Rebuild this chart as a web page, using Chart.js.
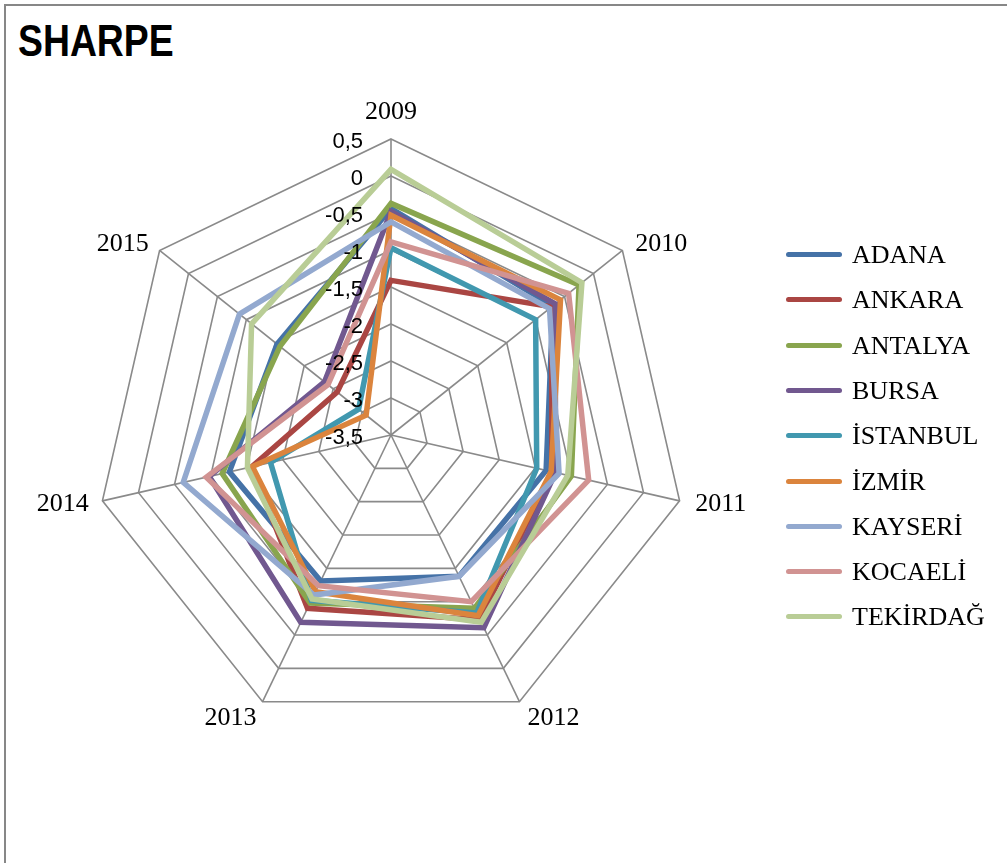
<!DOCTYPE html>
<html>
<head>
<meta charset="utf-8">
<title>SHARPE</title>
<script src="https://cdn.jsdelivr.net/npm/chart.js@4.4.1/dist/chart.umd.min.js"></script>
<style>
  html, body { margin: 0; padding: 0; background: #ffffff; overflow: hidden; }
  #wrap { position: relative; width: 1007px; height: 863px; overflow: hidden; }
  #frame { position: absolute; left: 4px; top: 4px; width: 1030px; height: 900px;
           border: 2px solid #878787; box-sizing: border-box; }
  #title { position: absolute; left: 18px; top: 19px; margin: 0;
           font: bold 45px 'Liberation Sans', Arial, sans-serif;
           line-height: 44px; color: #000;
           transform: scaleX(0.83); transform-origin: 0 0; }
  #chart { position: absolute; left: 0; top: 0; }
  #legend { position: absolute; left: 786px; top: 0; }
  .item { position: absolute; left: 0; height: 26px; white-space: nowrap; }
  .swatch { position: absolute; left: 0; top: 10px; width: 56px; height: 5px; border-radius: 3px; }
  .label { position: absolute; left: 66px; top: 0; font: 26px 'Liberation Serif', 'Times New Roman', serif;
           line-height: 26px; color: #000; }
</style>
</head>
<body>
<div id="wrap">
  <div id="frame"></div>
  <div id="title">SHARPE</div>
  <canvas id="chart" width="1007" height="863"></canvas>
  <div id="legend"></div>
</div>
<script>
// Years on the radar spokes
const years = ['2009', '2010', '2011', '2012', '2013', '2014', '2015'];

// Sharpe ratio per province, one value per year
const adana    = [-0.44, -0.70, -1.35, -1.38, -1.31, -1.26, -1.53];
const ankara   = [-1.41, -0.72, -1.27, -0.73, -0.90, -1.57, -2.57];
const antalya  = [-0.37, -0.25, -1.00, -0.90, -0.98, -1.16, -1.58];
const bursa    = [-0.48, -0.66, -1.22, -0.61, -0.69, -0.98, -2.35];
const istanbul = [-0.97, -1.00, -1.48, -0.83, -1.02, -1.83, -2.94];
const izmir    = [-0.53, -0.57, -1.28, -0.79, -1.15, -1.58, -3.07];
const kayseri  = [-0.62, -0.76, -1.17, -1.38, -1.10, -0.62, -0.88];
const kocaeli  = [-0.89, -0.43, -0.76, -1.00, -1.24, -0.94, -2.41];
const tekirdag = [ 0.09, -0.20, -1.05, -0.69, -1.04, -1.51, -1.09];

const seriesNames  = ['ADANA', 'ANKARA', 'ANTALYA', 'BURSA', 'İSTANBUL', 'İZMİR', 'KAYSERİ', 'KOCAELİ', 'TEKİRDAĞ'];
const seriesValues = [adana, ankara, antalya, bursa, istanbul, izmir, kayseri, kocaeli, tekirdag];
const seriesColors = ['#4572A7', '#AA4643', '#89A54E', '#71588F', '#4198AF', '#DB843D', '#93A9CF', '#D19392', '#B9CD96'];

// Radial axis ticks and their printed (comma-decimal) labels
const tickValues = [0.5, 0, -0.5, -1, -1.5, -2, -2.5, -3, -3.5];
const tickLabels = ['0,5', '0', '-0,5', '-1', '-1,5', '-2', '-2,5', '-3', '-3,5'];

const GRID = '#8a8a8a';

// Value labels along the 2009 spoke, printed over the lines
const tickLabelPlugin = {
  id: 'tickLabelPlugin',
  afterDatasetsDraw(chart) {
    const s = chart.scales.r;
    const ctx = chart.ctx;
    ctx.save();
    ctx.font = "22px 'Liberation Sans', Arial, sans-serif";
    ctx.fillStyle = '#000';
    ctx.textAlign = 'right';
    ctx.textBaseline = 'middle';
    tickValues.forEach((v, i) => {
      const d = s.getDistanceFromCenterForValue(v);
      ctx.fillText(tickLabels[i], s.xCenter - 28, s.yCenter - d + 3);
    });
    ctx.restore();
  }
};

// Year labels just outside each spoke
const yearLabelPlugin = {
  id: 'yearLabelPlugin',
  afterDraw(chart) {
    const s = chart.scales.r;
    const ctx = chart.ctx;
    ctx.save();
    ctx.font = "26px 'Liberation Serif', 'Times New Roman', serif";
    ctx.fillStyle = '#000';
    years.forEach((y, i) => {
      const p = s.getPointPosition(i, s.drawingArea + 14);
      const dx = p.x - s.xCenter, dy = p.y - s.yCenter;
      const len = Math.hypot(dx, dy);
      const ux = dx / len, uy = dy / len;
      let x = p.x, yy = p.y;
      if (Math.abs(ux) < 0.1) {
        ctx.textAlign = 'center';
        ctx.textBaseline = 'alphabetic';
        yy = p.y - 6;
      } else {
        ctx.textAlign = ux > 0 ? 'left' : 'right';
        ctx.textBaseline = 'middle';
        if (uy > 0.8) yy += 4;
        if (uy < -0.5) yy += 2;
        x += ux > 0 ? 2 : 0;
      }
      ctx.fillText(y, x, yy);
    });
    ctx.restore();
  }
};

const datasets = seriesNames.map((name, i) => ({
  label: name,
  data: seriesValues[i],
  borderColor: seriesColors[i],
  backgroundColor: seriesColors[i],
  borderWidth: 5.5,
  pointRadius: 0,
  pointHoverRadius: 0,
  fill: false,
  tension: 0,
  borderJoinStyle: 'miter',
  order: seriesNames.length - 1 - i
}));

new Chart(document.getElementById('chart'), {
  type: 'radar',
  data: { labels: years, datasets },
  options: {
    responsive: false,
    animation: false,
    devicePixelRatio: 1,
    layout: { padding: { left: 95, right: 320, top: 139, bottom: 132 } },
    plugins: { legend: { display: false }, title: { display: false }, tooltip: { enabled: false } },
    scales: {
      r: {
        min: -3.5,
        max: 0.5,
        startAngle: 0,
        ticks: { stepSize: 0.5, display: false },
        pointLabels: { display: false },
        grid: { color: GRID, lineWidth: 1.6, circular: false },
        angleLines: { color: GRID, lineWidth: 1.6 }
      }
    }
  },
  plugins: [tickLabelPlugin, yearLabelPlugin]
});

// Legend: one line swatch and name per province
const legend = document.getElementById('legend');
seriesNames.forEach((name, i) => {
  const item = document.createElement('div');
  item.className = 'item';
  item.style.top = (255 + i * 45.3 - 13) + 'px';
  const sw = document.createElement('span');
  sw.className = 'swatch';
  sw.style.background = seriesColors[i];
  const lb = document.createElement('span');
  lb.className = 'label';
  lb.textContent = name;
  item.appendChild(sw);
  item.appendChild(lb);
  legend.appendChild(item);
});
</script>
</body>
</html>
